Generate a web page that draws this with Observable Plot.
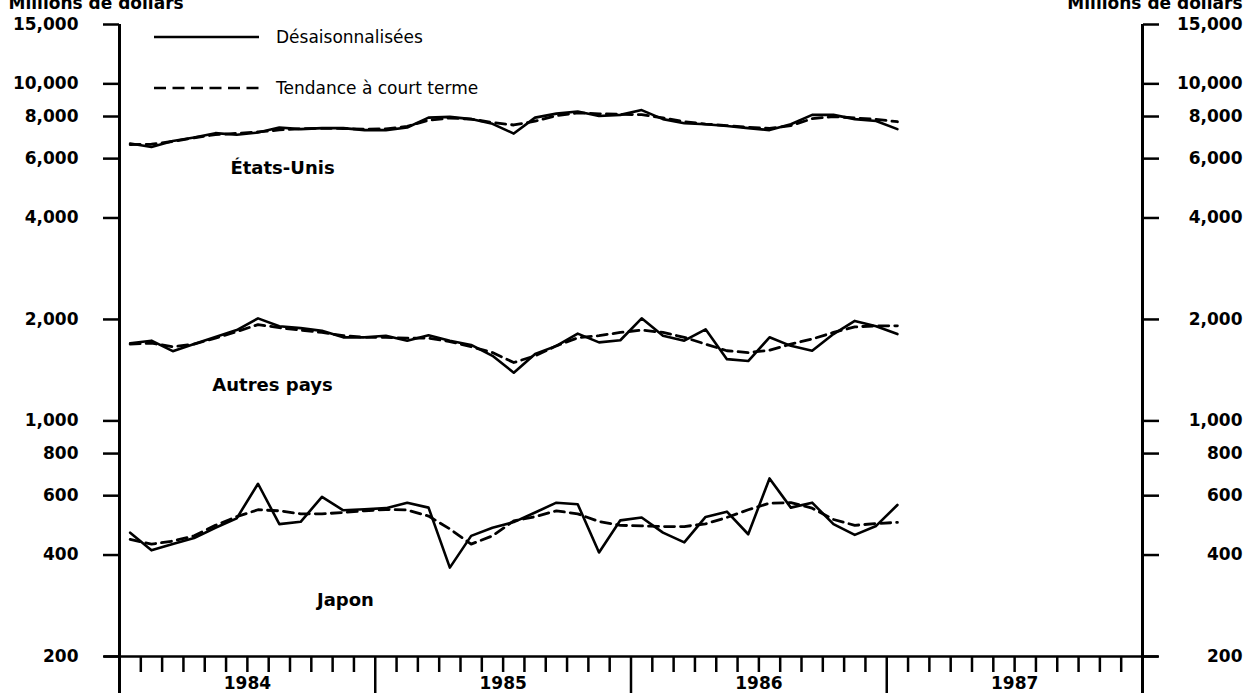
<!DOCTYPE html>
<html><head><meta charset="utf-8">
<script src="https://cdn.jsdelivr.net/npm/d3@7"></script>
<script src="https://cdn.jsdelivr.net/npm/@observablehq/plot@0.6"></script>
<style>
body{margin:0;background:#fff}
svg{display:block}
</style>
</head><body><div id="chart"></div>
<script>
// Months: index 0 = Jan 1984 ... 36 = Jan 1987 (plotted mid-month)
const months = d3.range(37);

const usSA = [6650,6500,6770,6930,7140,7060,7170,7420,7340,7390,7390,7290,7290,7420,7940,7980,7860,7610,7120,7940,8160,8280,8030,8090,8360,7860,7640,7590,7500,7390,7290,7590,8090,8090,7860,7760,7340];
const usTrend = [6600,6620,6750,6920,7070,7130,7200,7300,7360,7380,7370,7340,7350,7480,7800,7920,7860,7680,7550,7750,8050,8200,8150,8120,8100,7930,7720,7600,7520,7430,7380,7520,7880,8000,7920,7850,7720];

const autresSA = [1700,1730,1610,1690,1775,1860,2015,1910,1885,1850,1770,1770,1790,1730,1795,1730,1680,1560,1390,1580,1670,1815,1710,1735,2015,1790,1730,1870,1525,1505,1770,1670,1615,1810,1980,1910,1810];
const autresTrend = [1690,1700,1660,1690,1760,1840,1930,1890,1860,1830,1790,1770,1770,1760,1760,1720,1660,1595,1490,1560,1670,1765,1790,1830,1860,1830,1770,1690,1615,1595,1620,1690,1750,1830,1900,1915,1915];

const japonSA = [466,413,431,449,482,514,651,494,502,595,543,547,551,572,553,367,456,482,501,535,572,566,407,507,517,466,436,519,538,461,675,553,572,494,459,488,563];
const japonTrend = [445,431,440,456,490,520,545,541,530,530,535,541,546,544,522,478,431,456,505,520,541,530,503,490,488,486,486,495,517,545,570,572,551,510,490,496,500];

const yTicks = [200,400,600,800,1000,2000,4000,6000,8000,10000,15000];
const yearLabels = ["1984","1985","1986","1987"];
const seriesNames = ["États-Unis","Autres pays","Japon"];
const seriesLabelMonth = [7.65, 7.18, 10.6];
const seriesLabelValue = [5600, 1280, 294];
const legendLabels = ["Désaisonnalisées","Tendance à court terme"];

const table = [];
[[usSA,usTrend],[autresSA,autresTrend],[japonSA,japonTrend]].forEach(([sa,tr],k)=>{
  months.forEach(i=>{
    table.push({m:i+0.5, v:sa[i], series:seriesNames[k], kind:"sa"});
    table.push({m:i+0.5, v:tr[i], series:seriesNames[k], kind:"trend"});
  });
});
const labelRows = seriesNames.map((n,k)=>({name:n, m:seriesLabelMonth[k], v:seriesLabelValue[k]}));

const monthTicks = d3.range(1,48).filter(d=>d%12!==0);
const yearTicks = [0,12,24,36,48];
const yearMid = [6,18,30,42];
const fmt = d3.format(",");
const FONT = "DejaVu Sans";

const W = 1249, H = 698, ML = 119, MR = 107, MT = 24, MB = 42;

const plot = Plot.plot({
  width: W, height: H,
  marginLeft: ML, marginRight: MR, marginTop: MT, marginBottom: MB,
  style: {fontFamily: FONT, background: "#fff", color: "#000", overflow: "visible"},
  x: {type: "linear", domain: [0,48], label: null},
  y: {type: "log", domain: [200,15000], label: null},
  marks: [
    // month and year ticks
    Plot.axisX({ticks: monthTicks, tickSize: 16, tickFormat: () => "", strokeWidth: 2.5, label: null}),
    Plot.axisX({ticks: yearTicks, tickSize: 37, tickFormat: () => "", strokeWidth: 2.5, label: null}),
    Plot.text(yearMid, {x: d => d, frameAnchor: "bottom", dy: 32, text: (d,i) => yearLabels[i],
      fontSize: 17, fontWeight: "bold", fill: "#000"}),
    // y ticks both sides
    Plot.axisY({anchor: "left", ticks: yTicks, tickSize: 16, tickFormat: () => "", strokeWidth: 2.5, label: null}),
    Plot.axisY({anchor: "right", ticks: yTicks, tickSize: 16, tickFormat: () => "", strokeWidth: 2.5, label: null}),
    Plot.text(yTicks, {y: d => d, frameAnchor: "left", dx: -41, textAnchor: "end", text: d => fmt(d),
      fontSize: 17, fontWeight: "bold", fill: "#000"}),
    Plot.text(yTicks, {y: d => d, frameAnchor: "right", dx: 100, textAnchor: "end", text: d => fmt(d),
      fontSize: 17, fontWeight: "bold", fill: "#000"}),
    // axis lines
    Plot.ruleY([200], {insetLeft: -15, insetRight: -16, strokeWidth: 2.5}),
    Plot.ruleX([0], {insetBottom: -37, strokeWidth: 3}),
    Plot.ruleX([48], {insetBottom: -37, strokeWidth: 3}),
    // series
    Plot.line(table.filter(d=>d.kind==="trend"), {x:"m", y:"v", z:"series", stroke:"#000", strokeWidth: 2.8, strokeDasharray: "10,6"}),
    Plot.line(table.filter(d=>d.kind==="sa"), {x:"m", y:"v", z:"series", stroke:"#000", strokeWidth: 2.6}),
    // series labels
    Plot.text(labelRows, {x:"m", y:"v", text:"name", fontSize: 18, fontWeight: "bold", fill:"#000"}),
    // unit labels
    Plot.text(["Millions de dollars"], {frameAnchor: "top-left", dx: -111, dy: -16, lineAnchor: "bottom", textAnchor: "start", fontSize: 17, fontWeight: "bold", fill:"#000"}),
    Plot.text(["Millions de dollars"], {frameAnchor: "top-right", dx: 100, dy: -16, lineAnchor: "bottom", textAnchor: "end", fontSize: 17, fontWeight: "bold", fill:"#000"})
  ]
});

// legend inside plot area
const svg = d3.select(plot);
const lg = svg.append("g").attr("font-family", FONT).attr("font-size", 17).attr("text-anchor", "start");
const legendRows = [{y: MT + 13, dash: null}, {y: MT + 64, dash: "12,6.5"}];
legendRows.forEach((r,k)=>{
  lg.append("line").attr("x1", ML + 35).attr("x2", ML + 140).attr("y1", r.y).attr("y2", r.y)
    .attr("stroke", "#000").attr("stroke-width", 2.5).attr("stroke-dasharray", r.dash);
  lg.append("text").attr("x", ML + 157).attr("y", r.y).attr("dy", "0.35em").attr("fill", "#000")
    .attr("text-anchor", "start").text(legendLabels[k]);
});

document.getElementById("chart").appendChild(plot);
</script>
</body></html>
